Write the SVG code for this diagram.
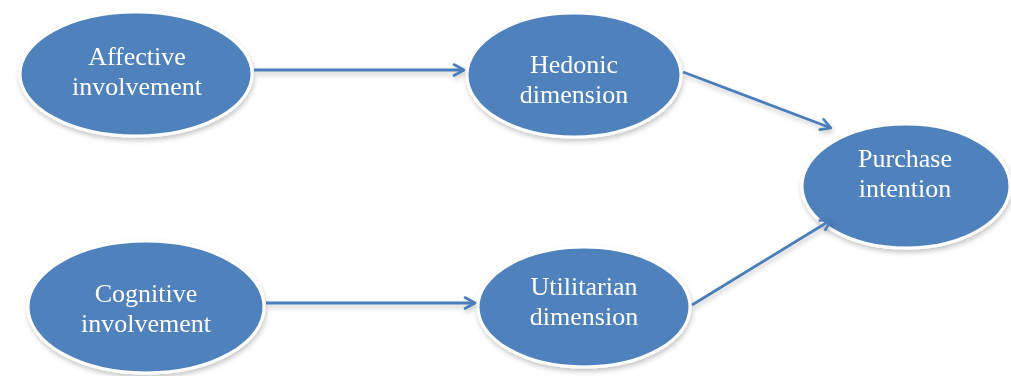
<svg xmlns="http://www.w3.org/2000/svg" width="1011" height="376" viewBox="0 0 1011 376">
  <defs>
    <filter id="soft" x="-10%" y="-10%" width="125%" height="130%">
      <feGaussianBlur in="SourceAlpha" stdDeviation="2.5"/>
      <feOffset dx="1" dy="3" result="b"/>
      <feFlood flood-color="#000" flood-opacity="0.22"/>
      <feComposite in2="b" operator="in"/>
      <feMerge><feMergeNode/><feMergeNode in="SourceGraphic"/></feMerge>
    </filter>
    <marker id="arrow" viewBox="0 0 14 14" refX="12.5" refY="7" markerWidth="14" markerHeight="14" markerUnits="userSpaceOnUse" orient="auto">
      <path d="M2.5,1.5 L12.5,7 L2.5,12.5" fill="none" stroke="#4a7ebb" stroke-width="2.6" stroke-linecap="round" stroke-linejoin="round"/>
    </marker>
  </defs>
  <style>
    .node ellipse { fill: #4f81bd; stroke: #ffffff; stroke-width: 3; }
    .node text { font-family: "Liberation Serif", "Times New Roman", serif; font-size: 26px; fill: #ffffff; text-anchor: middle; }
    .edge { fill: none; stroke: #4a7ebb; stroke-width: 2.8; marker-end: url(#arrow); }
  </style>
  <rect width="1011" height="376" fill="#ffffff"/>

  <g id="affective" class="node" filter="url(#soft)">
    <ellipse cx="136" cy="74" rx="116" ry="62"/>
    <text x="137" y="65">Affective</text>
    <text x="137" y="95">involvement</text>
  </g>

  <g id="hedonic" class="node" filter="url(#soft)">
    <ellipse cx="574" cy="75" rx="107" ry="62"/>
    <text x="574" y="73">Hedonic</text>
    <text x="574" y="103">dimension</text>
  </g>

  <g id="purchase" class="node" filter="url(#soft)">
    <ellipse cx="906" cy="186" rx="104" ry="62"/>
    <text x="905" y="167">Purchase</text>
    <text x="905" y="197">intention</text>
  </g>

  <g id="cognitive" class="node" filter="url(#soft)">
    <ellipse cx="146" cy="307" rx="118" ry="66"/>
    <text x="146" y="302">Cognitive</text>
    <text x="146" y="332">involvement</text>
  </g>

  <g id="utilitarian" class="node" filter="url(#soft)">
    <ellipse cx="584" cy="307" rx="106" ry="60"/>
    <text x="584" y="295">Utilitarian</text>
    <text x="584" y="325">dimension</text>
  </g>

  <g id="connectors" filter="url(#soft)">
    <line class="edge" x1="254" y1="70" x2="464" y2="70"/>
    <line class="edge" x1="266" y1="303" x2="475" y2="303"/>
    <line class="edge" x1="683" y1="72" x2="831" y2="128"/>
    <line class="edge" x1="692" y1="305" x2="831" y2="220"/>
  </g>
</svg>
